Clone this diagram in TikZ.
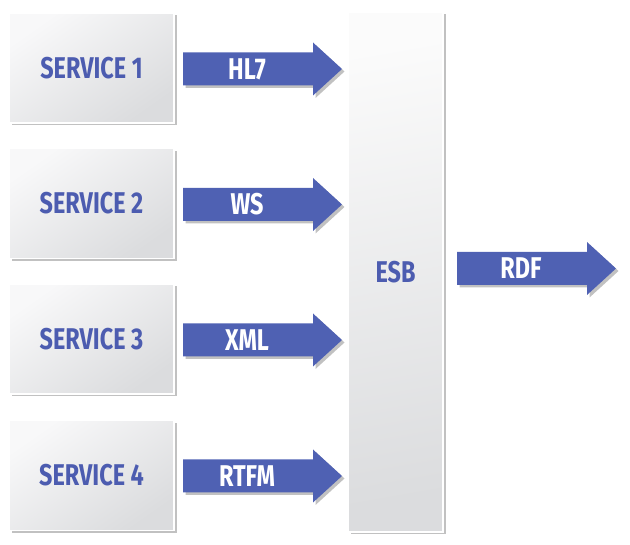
\documentclass[tikz,border=0pt]{standalone}
\usepackage{fontspec}
\newfontfamily\lblfont{Fira Sans}[FakeStretch=0.78]
\usetikzlibrary{shadows}
\definecolor{arrowblue}{HTML}{4F61B3}
\definecolor{textblue}{HTML}{4C5CB0}
\definecolor{boxlight}{HTML}{F8F8F9}
\definecolor{boxdark}{HTML}{DBDCDE}
\tikzset{
  softshadow/.style={drop shadow={shadow xshift=2.5pt, shadow yshift=-2.5pt, opacity=0.35, fill=black!70}},
  svc/.style={rectangle, draw=white, line width=1.5pt, minimum width=165pt, minimum height=110pt,
    top color=boxlight, bottom color=boxdark, shading angle=35, softshadow,
    font=\lblfont\bfseries\fontsize{30}{32}\selectfont, text=textblue, inner sep=0pt},
  esbbox/.style={rectangle, draw=white, line width=1.5pt, minimum width=95pt, minimum height=520pt,
    top color=white!97!gray, bottom color=boxdark, shading angle=10, softshadow,
    font=\lblfont\bfseries\fontsize{30}{32}\selectfont, text=textblue, inner sep=0pt},
  arrbody/.style={fill=arrowblue, softshadow},
  arrlbl/.style={font=\lblfont\bfseries\fontsize{30}{32}\selectfont, text=white, inner sep=0pt}
}
\newcommand\blkarrow[4]{%
  \fill[arrbody] (#2,#3-16.5) -- (#2+130,#3-16.5) -- (#2+130,#3-26.5) -- (#2+159,#3)
    -- (#2+130,#3+26.5) -- (#2+130,#3+16.5) -- (#2,#3+16.5) -- cycle;
  \node[arrlbl] (#1) at (#2+64,#3) {#4};%
}
\begin{document}
\begin{tikzpicture}[x=1pt,y=-1pt]
\useasboundingbox (0,0) rectangle (630,545);
\node[svc] (s1) at (91.5,68) {SERVICE 1};
\node[svc] (s2) at (91.5,203.5) {SERVICE 2};
\node[svc] (s3) at (91.5,339) {SERVICE 3};
\node[svc] (s4) at (91.5,475.5) {SERVICE 4};
\node[esbbox] (esb) at (395.5,272) {ESB};
\blkarrow{a1}{183}{69}{HL7}
\blkarrow{a2}{183}{204.5}{WS}
\blkarrow{a3}{183}{340}{XML}
\blkarrow{a4}{183}{476}{RTFM}
\blkarrow{a5}{457}{268.5}{RDF}
\end{tikzpicture}
\end{document}
